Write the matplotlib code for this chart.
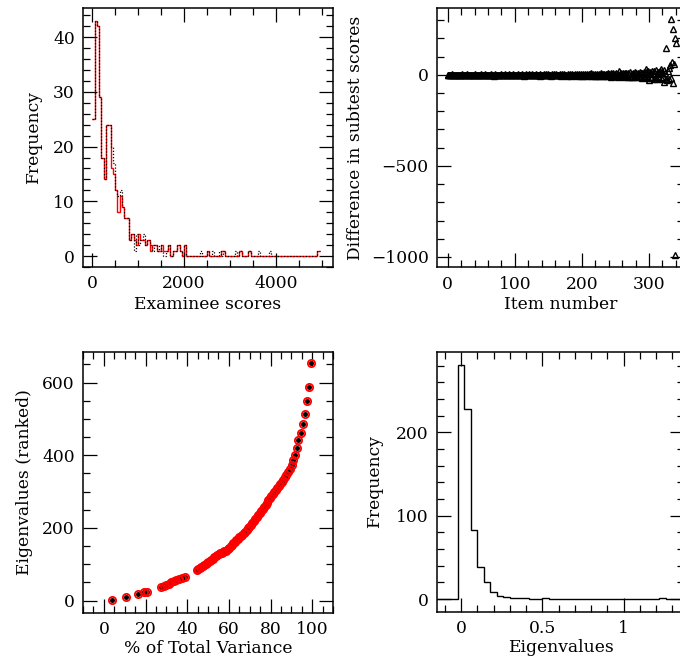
import numpy as np
import matplotlib
matplotlib.use("Agg")
import matplotlib.pyplot as plt
from matplotlib.ticker import MultipleLocator, FuncFormatter

plt.rcParams['font.family'] = 'DejaVu Serif'
plt.rcParams['font.size'] = 12.3
plt.rcParams['axes.unicode_minus'] = True

# --- panel 1: histogram of examinee scores (bins of 50) ---
score_bin = 50
score_red = [25, 43, 42, 29, 18, 14, 24, 24, 16, 15, 12, 8, 11, 9, 7, 7, 3, 4, 3, 2,
             4, 3, 3, 2, 3, 1, 2, 2, 1, 1, 2, 1, 1, 2, 0, 1, 1, 2, 1, 0,
             2, 0, 0, 0, 0, 0, 0, 0, 0, 0, 1, 0, 0, 0, 0, 0, 1, 1, 0, 0,
             0, 0, 0, 0, 1, 0, 0, 0, 1, 0, 0, 0, 0, 0, 0, 0, 0, 0, 0, 0,
             0, 0, 0, 0, 0, 0, 0, 0, 0, 0, 0, 0, 0, 0, 0, 0, 0, 0, 1]
score_blk = [25, 43, 42, 29, 18, 14, 24, 24, 20, 17, 12, 11, 12, 9, 7, 7, 3, 4, 1, 4,
             2, 3, 4, 2, 3, 2, 1, 2, 1, 2, 1, 0, 1, 2, 0, 1, 1, 2, 1, 0,
             2, 0, 0, 0, 0, 0, 0, 1, 0, 0, 1, 0, 1, 0, 0, 1, 0, 1, 0, 0,
             0, 0, 1, 0, 1, 0, 0, 0, 1, 0, 0, 0, 1, 0, 0, 0, 0, 1, 0, 0,
             0, 0, 0, 0, 0, 0, 0, 0, 0, 0, 0, 0, 0, 0, 0, 0, 0, 0, 1]

# --- panel 2: difference in subtest scores per item ---
item_diff = [0, 1, -1, 2, 0, -2, 1, 3, -1, 0, 2, -1, 1, 0, -3, 2, 1, -1, 0, 1,
             -2, 0, 3, 1, -1, 2, 0, -2, 1, 4, -1, 0, 2, -3, 1, 0, -1, 2, 1, -2,
             0, 3, -1, 1, -2, 2, 0, 1, -1, 3, 0, -2, 1, 2, -1, 0, 4, -3, 1, 0,
             2, -1, 1, -2, 3, 0, -1, 2, 1, -4, 0, 3, -1, 1, 2, -2, 0, 1, -1, 3,
             0, -2, 2, 1, -1, 0, 3, -3, 1, 2, -1, 0, 4, -2, 1, 0, -1, 3, 1, -2,
             2, 0, -3, 1, 4, -1, 0, 2, -2, 1, 3, -1, 0, -4, 2, 1, -1, 5, 0, -2,
             1, 3, -1, 0, -3, 2, 4, -2, 1, 0, -1, 5, -3, 2, 1, -1, 0, 3, -4, 1,
             2, -2, 0, 4, -1, 1, -3, 3, 0, -2, 5, 1, -1, 2, -4, 0, 3, -2, 1, 4,
             -1, 0, 6, -3, 2, 1, -2, 4, 0, -5, 3, 1, -1, 2, 7, -3, 0, 2, -4, 5,
             1, -2, 3, 0, -5, 4, 2, -3, 1, 6, -1, 0, 3, -6, 2, 4, -2, 1, 5, -4,
             0, 3, -6, 2, 7, -3, 1, 4, -5, 0, 6, -2, 3, -4, 8, 1, -3, 5, -6, 2,
             4, -5, 7, 0, -4, 6, 2, -7, 3, 9, -2, 4, -6, 5, 1, -8, 7, 3, -5, 10,
             -3, 6, 2, -9, 8, 4, -6, 11, 0, -7, 5, 9, -4, 3, -10, 22, 6, -8, 12, 2,
             -5, 9, -11, 4, 13, -7, 8, 1, -12, 10, 6, -9, 14, -4, 7, -13, 11, 5, -10, 15,
             -6, 9, -14, 12, 3, -8, -11, 16, 8, -15, 11, 5, -12, 18, -9, 31, 14, -7, 20, -16,
             -29, 7, 15, -18, 24, -10, 12, -20, 19, 9, -14, 26, -22, 17, 6, -19, 13, 21, 31, -25,
             18, -12, 27, -38, 10, -20, 145, -29, 22, -25, 40, 53, -15, 305, 71, -44, 254, 59, 203, -991, 176]
item_num = np.arange(len(item_diff))

# --- panel 3: ranked eigenvalues vs % of total variance ---
pct_var = [3.8, 10.7, 16.6, 19.5, 20.8, 27.6, 28.8, 30.0, 31.2, 32.4, 33.6, 34.8, 36.0, 37.4, 38.8,
           44.6, 45.3, 46.0, 46.7, 47.4, 48.1, 48.8, 49.5, 50.2, 50.9, 51.6, 52.3, 53.0, 53.7, 54.4,
           55.1, 55.8, 56.5, 57.2, 57.9, 58.7, 59.4, 60.1, 60.8, 61.5, 62.2, 62.9, 63.6, 64.3, 65.0,
           65.7, 66.4, 67.1, 67.8, 68.5, 69.2, 69.9, 70.6, 71.3, 72.0, 72.7, 73.4, 74.1, 74.8, 75.5,
           76.2, 76.9, 77.6, 78.3, 79.0, 79.7, 80.4, 81.1, 81.8, 82.5, 83.2, 83.9, 84.6, 85.3, 86.0,
           86.8, 87.6, 88.4, 89.2, 90.1, 91.0, 91.8, 92.6, 93.4, 94.4, 95.5, 96.5, 97.4, 98.4, 99.5]
eigen_ranked = [2, 9, 18, 23, 25, 38, 40, 43, 47, 50, 54, 57, 60, 63, 66,
                84, 86, 89, 92, 95, 98, 101, 104, 107, 110, 113, 116, 119, 122, 125,
                128, 130, 132, 134, 136, 138, 142, 146, 150, 154, 158, 162, 166, 170, 174,
                178, 182, 186, 190, 194, 199, 204, 209, 214, 219, 225, 230, 236, 241, 247,
                252, 258, 264, 270, 276, 282, 288, 294, 300, 305, 311, 316, 322, 327, 333,
                340, 347, 355, 363, 373, 387, 401, 419, 442, 461, 486, 514, 548, 587, 653]

# --- panel 4: histogram of eigenvalues (bins of 0.04) ---
eig_edges = np.round(np.arange(-0.18, 1.43, 0.04), 2)
eig_counts = [0, 0, 0, 0, 281, 228, 83, 39, 21, 9, 4, 3, 2, 1, 1, 0, 0, 1, 0, 0,
              0, 0, 0, 0, 0, 0, 0, 0, 0, 0, 0, 0, 0, 0, 0, 1, 0, 0, 0, 0]


def style(ax, xmaj, xmin, ymaj, ymin):
    ax.xaxis.set_major_locator(MultipleLocator(xmaj))
    ax.xaxis.set_minor_locator(MultipleLocator(xmin))
    ax.yaxis.set_major_locator(MultipleLocator(ymaj))
    ax.yaxis.set_minor_locator(MultipleLocator(ymin))
    ax.tick_params(which='both', direction='in', top=True, right=True, width=0.9)
    ax.tick_params(which='major', length=10, pad=6)
    ax.tick_params(which='minor', length=5)
    ax.xaxis.set_major_formatter(FuncFormatter(lambda v, p: '%g' % v))
    for s in ax.spines.values():
        s.set_linewidth(1.1)


fig = plt.figure(figsize=(6.8, 6.59), dpi=100)

# top left
ax1 = fig.add_axes([0.1221, 0.5948, 0.3676, 0.3938])
edges1 = np.arange(len(score_red) + 1) * score_bin
ax1.stairs(score_red, edges1, baseline=None, color='red', lw=1.0)
ax1.stairs(score_blk, edges1, baseline=None, color='black', lw=0.9, ls=(0, (1, 1.5)))
ax1.set_xlim(-200, 5240)
ax1.set_ylim(-2, 45.4)
style(ax1, 2000, 500, 10, 2)
ax1.set_xlabel('Examinee scores')
ax1.set_ylabel('Frequency')
ax1.xaxis.set_label_coords(0.5, -0.112)
ax1.yaxis.set_label_coords(-0.165, 0.5)

# top right
ax2 = fig.add_axes([0.6426, 0.5941, 0.3632, 0.3945])
ax2.plot(item_num, item_diff, ls='none', marker='^', ms=3.8, mfc='none',
         mec='black', mew=1.0)
ax2.set_xlim(-16, 352)
ax2.set_ylim(-1058, 370)
style(ax2, 100, 20, 500, 100)
ax2.set_xlabel('Item number')
ax2.set_ylabel('Difference in subtest scores')
ax2.xaxis.set_label_coords(0.5, -0.108)
ax2.yaxis.set_label_coords(-0.294, 0.5)

# bottom left
ax3 = fig.add_axes([0.1221, 0.0703, 0.3676, 0.3961])
ax3.plot(pct_var, eigen_ranked, ls='none', marker='o', ms=3.6, mfc='black',
         mec='black', mew=0)
ax3.plot(pct_var, eigen_ranked, ls='none', marker='o', ms=5.2, mfc='none',
         mec='red', mew=1.3)
ax3.set_xlim(-10, 110)
ax3.set_ylim(-33, 685)
style(ax3, 20, 5, 200, 50)
ax3.set_xlabel('% of Total Variance')
ax3.set_ylabel('Eigenvalues (ranked)')
ax3.xaxis.set_label_coords(0.5, -0.106)
ax3.yaxis.set_label_coords(-0.199, 0.5)

# bottom right
ax4 = fig.add_axes([0.6431, 0.0718, 0.3632, 0.3936])
ax4.stairs(eig_counts, eig_edges, baseline=None, color='black', lw=1.0)
ax4.set_xlim(-0.146, 1.373)
ax4.set_ylim(-15, 296)
style(ax4, 0.5, 0.1, 100, 20)
ax4.set_xlabel('Eigenvalues')
ax4.set_ylabel('Frequency')
ax4.xaxis.set_label_coords(0.5, -0.106)
ax4.yaxis.set_label_coords(-0.218, 0.5)

fig.savefig('out.png', dpi=100)
